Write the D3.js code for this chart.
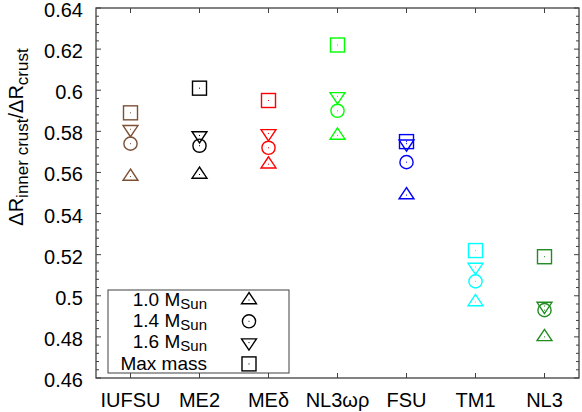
<!DOCTYPE html>
<html><head><meta charset="utf-8">
<script src="https://cdn.jsdelivr.net/npm/d3@7"></script>
<style>body{margin:0;background:#fff}svg{display:block}text{font-family:"Liberation Sans",Arial,sans-serif}</style>
</head><body><svg id="c" width="582" height="412"></svg>
<script>
const categories = ["IUFSU","ME2","MEδ","NL3ωρ","FSU","TM1","NL3"];
const colors = ["#7d5035","#000000","#ff0000","#00ff00","#0000ff","#00ffff","#228b22"];
const mass10 = [0.558,0.559,0.564,0.578,0.549,0.497,0.480];
const mass14 = [0.574,0.573,0.572,0.590,0.565,0.507,0.493];
const mass16 = [0.581,0.578,0.579,0.597,0.574,0.514,0.495];
const massMax = [0.589,0.601,0.595,0.622,0.575,0.522,0.519];
const yTicks = [0.46,0.48,0.5,0.52,0.54,0.56,0.58,0.6,0.62,0.64];
const yTickLabels = ["0.46","0.48","0.5","0.52","0.54","0.56","0.58","0.6","0.62","0.64"];
const legendLabels = [["1.0 M","Sun"],["1.4 M","Sun"],["1.6 M","Sun"],["Max mass",""]];
const series = [
  {vals: mass10, shape: "up"},
  {vals: mass14, shape: "circle"},
  {vals: mass16, shape: "down"},
  {vals: massMax, shape: "square"}
];

const svg = d3.select("#c");
const L=96, R=579, T=8, B=378;
const x = d3.scaleLinear().domain([0.5,7.5]).range([L,R]);
const y = d3.scaleLinear().domain([0.46,0.64]).range([B,T]);
const axCol = "#404040";

// minor ticks
const minor = d3.range(0,46).map(i=>0.46+i*0.004).filter(v=>v<=0.6401);
const gAx = svg.append("g");
minor.forEach(v=>{
  const major = yTicks.some(t=>Math.abs(t-v)<1e-6);
  const len = major?5:3;
  gAx.append("line").attr("x1",L).attr("x2",L+len).attr("y1",y(v)).attr("y2",y(v)).attr("stroke",axCol);
  gAx.append("line").attr("x1",R).attr("x2",R-len).attr("y1",y(v)).attr("y2",y(v)).attr("stroke",axCol);
});
categories.forEach((c,i)=>{
  gAx.append("line").attr("x1",x(i+1)).attr("x2",x(i+1)).attr("y1",B).attr("y2",B-5).attr("stroke",axCol);
  gAx.append("line").attr("x1",x(i+1)).attr("x2",x(i+1)).attr("y1",T).attr("y2",T+5).attr("stroke",axCol);
  gAx.append("text").attr("x",x(i+1)).attr("y",407).attr("text-anchor","middle").attr("font-size",20).attr("fill","#000").text(c);
});
yTicks.forEach((v,i)=>{
  gAx.append("text").attr("x",83).attr("y",y(v)).attr("dy","0.45em").attr("text-anchor","end").attr("font-size",20).attr("fill","#000").text(yTickLabels[i]);
});
gAx.append("rect").attr("x",L).attr("y",T).attr("width",R-L).attr("height",B-T).attr("fill","none").attr("stroke",axCol).attr("stroke-width",1.3);

// y label
const yl = svg.append("text").attr("transform","translate(23,137) rotate(-90)").attr("text-anchor","middle").attr("font-size",20).attr("fill","#000");
yl.append("tspan").text("ΔR");
yl.append("tspan").attr("font-size",17).attr("dy",5).text("inner crust");
yl.append("tspan").attr("dy",-5).text("/ΔR");
yl.append("tspan").attr("font-size",17).attr("dy",5).text("crust");

function drawMarker(g, shape, cx, cy, col){
  const s = 5.6;
  let el;
  if(shape==="square") el = g.append("rect").attr("x",cx-7).attr("y",cy-7).attr("width",14).attr("height",14);
  else if(shape==="circle") el = g.append("circle").attr("cx",cx).attr("cy",cy).attr("r",6.6);
  else if(shape==="up") el = g.append("path").attr("d",`M${cx},${cy-4/3*s}L${cx-4/3*s},${cy+2/3*s}L${cx+4/3*s},${cy+2/3*s}Z`);
  else el = g.append("path").attr("d",`M${cx},${cy+4/3*s}L${cx-4/3*s},${cy-2/3*s}L${cx+4/3*s},${cy-2/3*s}Z`);
  el.attr("fill","none").attr("stroke",col).attr("stroke-width",1.4);
  g.append("rect").attr("x",cx-0.5).attr("y",cy-0.5).attr("width",1).attr("height",1).attr("fill",col);
}

const gp = svg.append("g");
series.forEach(s=>{
  s.vals.forEach((v,i)=>drawMarker(gp, s.shape, x(i+1), y(v), colors[i]));
});

// legend
const gl = svg.append("g");
gl.append("rect").attr("x",108).attr("y",290).attr("width",181).attr("height",83).attr("fill","#fff").attr("stroke",axCol).attr("stroke-width",1);
legendLabels.forEach((lab,i)=>{
  const cy = 300 + i*21.3;
  const t = gl.append("text").attr("x",207).attr("y",cy).attr("dy","0.3em").attr("text-anchor","end").attr("font-size",19).attr("fill","#000");
  t.append("tspan").text(lab[0]);
  if(lab[1]) t.append("tspan").attr("font-size",15).attr("dy",3).text(lab[1]);
  drawMarker(gl, series[i].shape, 249, cy, "#000");
});
</script></body></html>
